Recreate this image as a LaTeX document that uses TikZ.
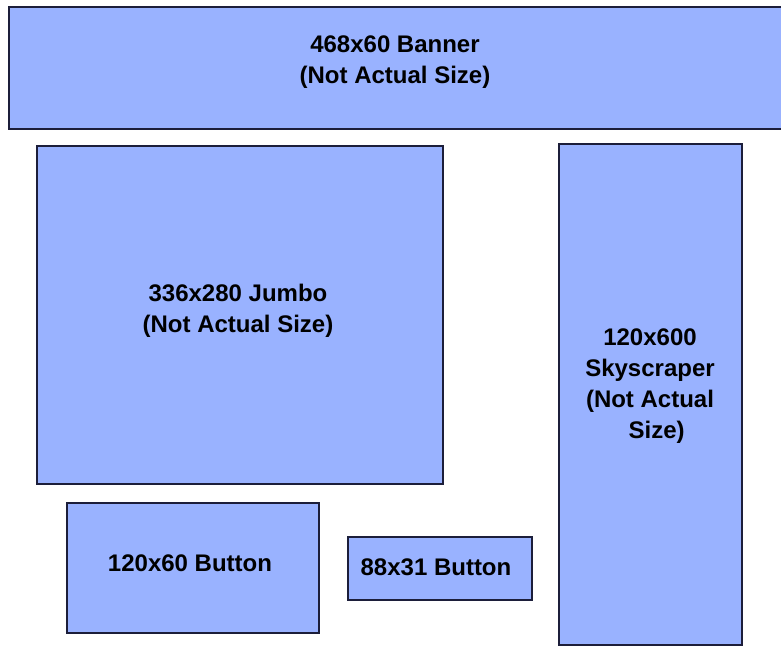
\documentclass[tikz,border=0pt]{standalone}
\usepackage{fontspec}
\setmainfont{Liberation Sans}
\usetikzlibrary{positioning}
\definecolor{adfill}{RGB}{153,178,255}
\definecolor{adline}{RGB}{28,30,58}

\begin{document}
\begin{tikzpicture}[x=1pt,y=-1pt,font=\bfseries\fontsize{24}{31}\selectfont,
    adbox/.style={draw=adline,line width=2pt,fill=adfill,anchor=north west,inner sep=0pt,align=center}]
    \useasboundingbox (0,0) rectangle (781,646);
    \node[adbox,minimum width=780,minimum height=122] (banner) at (8,6) {};
    \node[adbox,minimum width=406,minimum height=338] (jumbo) at (36,145) {};
    \node[adbox,minimum width=183,minimum height=501] (sky) at (558,143) {};
    \node[adbox,minimum width=252,minimum height=130] (btn) at (66,502) {};
    \node[adbox,minimum width=184,minimum height=63] (small) at (347,536) {};
    % labels
    \node[align=center] (bannertxt) at (395,62) {468x60 Banner\\(Not Actual Size)};
    \node[align=center] (jumbotxt) at (238,311) {336x280 Jumbo\\(Not Actual Size)};
    \node[align=center] (skytxt) at (650,386) {120x600\\Skyscraper\\(Not Actual\\\ \ Size)};
    \node (btntxt) at (190,563) {120x60 Button};
    \node (smalltxt) at (436,567) {88x31 Button};
\end{tikzpicture}
\end{document}
